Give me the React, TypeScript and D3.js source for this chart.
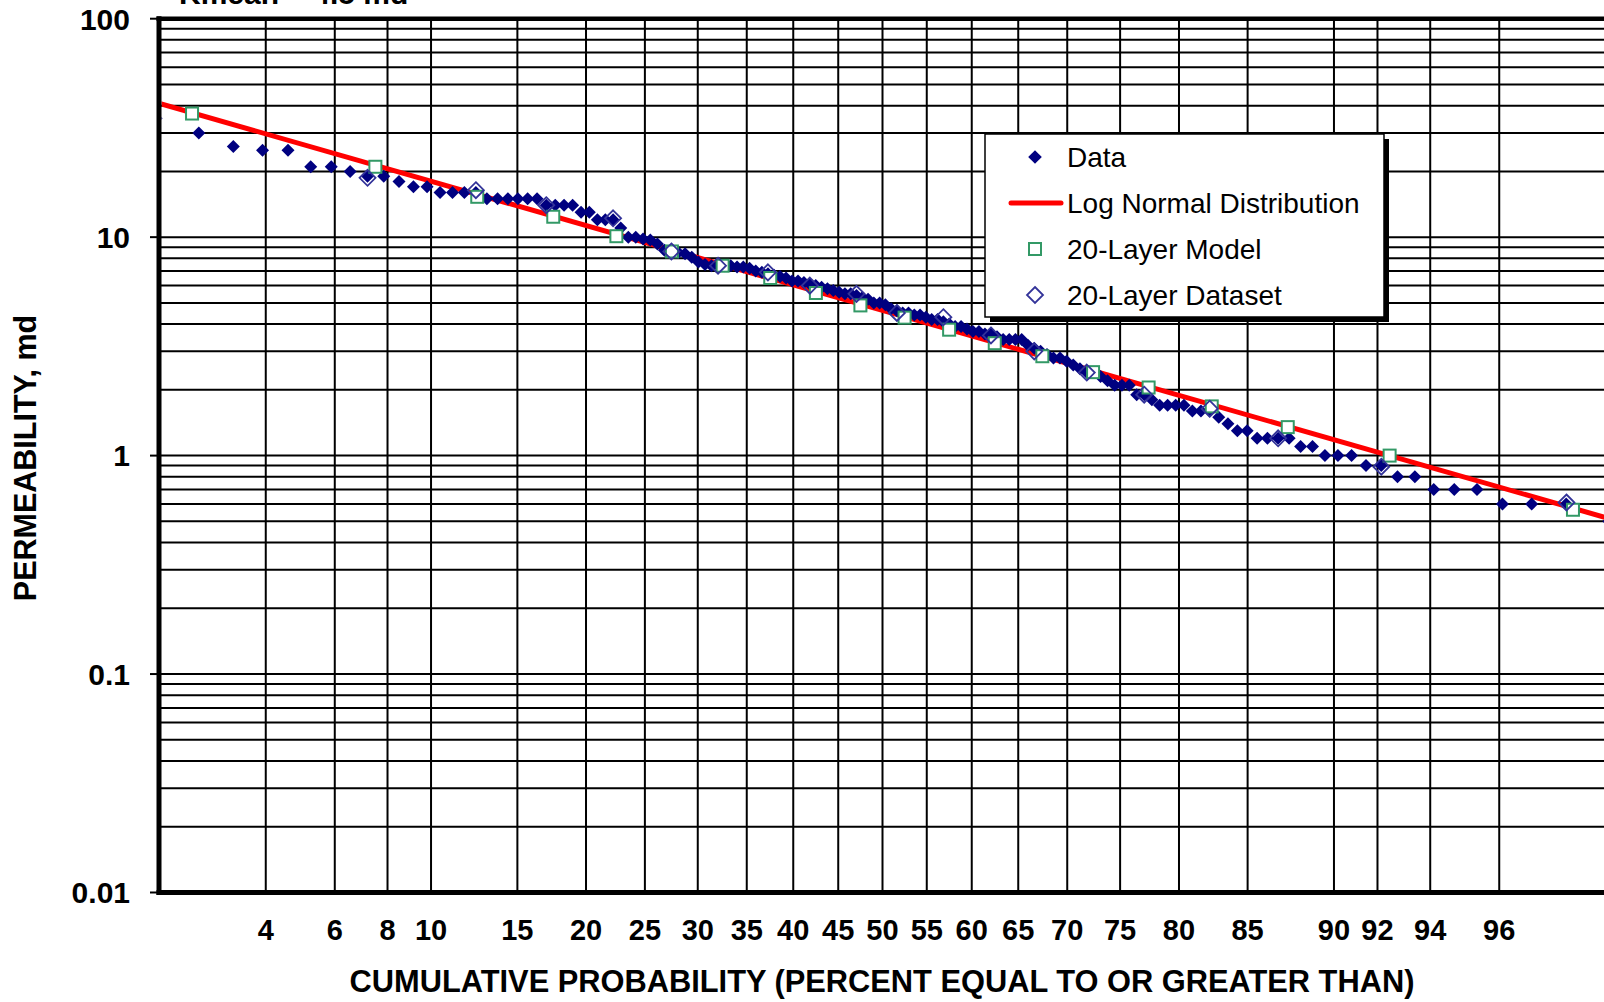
import React, { useEffect, useRef } from "react";
import * as d3 from "d3";

// permeability values (md), ranked from highest to lowest
const dataK = [
  48, 40, 35, 30, 26, 25, 25, 21, 21, 20,
  19, 19, 18, 17, 17, 16, 16, 16, 16, 15,
  15, 15, 15, 15, 15, 14, 14, 14, 14, 13,
  13, 12, 12, 12, 11, 10, 10, 9.8, 9.7, 9.3,
  8.7, 8.6, 8.5, 8.4, 8.1, 7.7, 7.5, 7.4, 7.4, 7.4,
  7.4, 7.3, 7.3, 7.2, 7.0, 6.9, 6.8, 6.7, 6.6, 6.5,
  6.3, 6.3, 6.2, 6.1, 6.0, 5.9, 5.8, 5.7, 5.6, 5.5,
  5.5, 5.4, 5.3, 5.2, 5.0, 5.0, 4.9, 4.7, 4.6, 4.5,
  4.5, 4.4, 4.4, 4.3, 4.2, 4.2, 4.1, 4.0, 3.9, 3.9,
  3.8, 3.7, 3.7, 3.6, 3.6, 3.5, 3.4, 3.4, 3.4, 3.4,
  3.2, 3.1, 3.0, 2.9, 2.8, 2.8, 2.7, 2.6, 2.5, 2.4,
  2.4, 2.3, 2.2, 2.1, 2.1, 2.1, 1.9, 1.9, 1.8, 1.7,
  1.7, 1.7, 1.7, 1.6, 1.6, 1.6, 1.5, 1.4, 1.3, 1.3,
  1.2, 1.2, 1.2, 1.2, 1.1, 1.1, 1.0, 1.0, 1.0, 0.9,
  0.9, 0.8, 0.8, 0.7, 0.7, 0.7, 0.6, 0.6, 0.6, 0.5,
  0.5, 0.4,
];

const modelP = [2.5, 7.5, 12.5, 17.5, 22.5, 27.5, 32.5, 37.5, 42.5, 47.5, 52.5, 57.5, 62.5, 67.5, 72.5, 77.5, 82.5, 87.5, 92.5, 97.5];
const modelK = [36.8, 21, 15.3, 12.4, 10.1, 8.6, 7.4, 6.5, 5.55, 4.87, 4.28, 3.77, 3.27, 2.85, 2.41, 2.05, 1.68, 1.35, 1.0, 0.565];

const datasetP = [7.19, 12.42, 16.99, 22.22, 27.45, 32.03, 37.25, 41.83, 47.06, 51.63, 56.86, 62.09, 66.67, 71.9, 77.12, 82.35, 86.93, 92.16, 97.39];
const datasetK = [18.7, 16.4, 14.0, 12.2, 8.6, 7.4, 6.9, 6.0, 5.5, 4.5, 4.3, 3.55, 3.0, 2.4, 1.9, 1.64, 1.2, 0.89, 0.61];

// log normal fit, end points
const lineP = [2, 98];
const lineK = [41, 0.52];

const xTicks = [4, 6, 8, 10, 15, 20, 25, 30, 35, 40, 45, 50, 55, 60, 65, 70, 75, 80, 85, 90, 92, 94, 96];
const yTicks = [0.01, 0.1, 1, 10, 100];
const yTickLabels = ["0.01", "0.1", "1", "10", "100"];
const legendItems = ["Data", "Log Normal Distribution", "20-Layer Model", "20-Layer Dataset"];

// inverse normal cdf (Acklam)
function probit(p: number) {
  const a = [-39.69683028665376, 220.9460984245205, -275.9285104469687, 138.357751867269, -30.66479806614716, 2.506628277459239];
  const b = [-54.47609879822406, 161.5858368580409, -155.6989798598866, 66.80131188771972, -13.28068155288572];
  const c = [-0.007784894002430293, -0.3223964580411365, -2.400758277161838, -2.549732539343734, 4.374664141464968, 2.938163982698783];
  const d = [0.007784695709041462, 0.3224671290700398, 2.445134137142996, 3.754408661907416];
  const plow = 0.02425;
  if (p < plow) {
    const q = Math.sqrt(-2 * Math.log(p));
    return (((((c[0] * q + c[1]) * q + c[2]) * q + c[3]) * q + c[4]) * q + c[5]) / ((((d[0] * q + d[1]) * q + d[2]) * q + d[3]) * q + 1);
  }
  if (p > 1 - plow) {
    const q = Math.sqrt(-2 * Math.log(1 - p));
    return -(((((c[0] * q + c[1]) * q + c[2]) * q + c[3]) * q + c[4]) * q + c[5]) / ((((d[0] * q + d[1]) * q + d[2]) * q + d[3]) * q + 1);
  }
  const q = p - 0.5;
  const r = q * q;
  return ((((((a[0] * r + a[1]) * r + a[2]) * r + a[3]) * r + a[4]) * r + a[5]) * q) / (((((b[0] * r + b[1]) * r + b[2]) * r + b[3]) * r + b[4]) * r + 1);
}

const FONT = "'Liberation Sans', Arial, sans-serif";

export default function App() {
  const ref = useRef<SVGSVGElement>(null);

  useEffect(() => {
    const width = 1604;
    const height = 1002;
    const left = 159;
    const right = 1606;
    const top = 18.7;
    const bottom = 892.5;

    const svg = d3.select(ref.current);
    svg.selectAll("*").remove();
    svg.attr("width", width).attr("height", height);

    const z = d3.scaleLinear().domain([probit(0.02), probit(0.98)]).range([left, right]);
    const x = (p: number) => z(probit(p / 100));
    const y = d3.scaleLog().domain([0.01, 100]).range([bottom, top]);

    svg.append("rect").attr("width", width).attr("height", height).attr("fill", "#fff");

    // clip a little inside the thick frame so nothing peeks past it
    svg.append("defs").append("clipPath").attr("id", "plotClip")
      .append("rect").attr("x", left + 2.5).attr("y", top).attr("width", right - left).attr("height", bottom - top);

    // grid
    const minor: number[] = [];
    [0.01, 0.1, 1, 10].forEach((dec) => {
      for (let m = 2; m <= 9; m++) minor.push(dec * m);
    });
    const grid = svg.append("g");
    grid.selectAll("line.h")
      .data(minor.concat(yTicks))
      .join("line")
      .attr("x1", left).attr("x2", right)
      .attr("y1", (d) => y(d)).attr("y2", (d) => y(d))
      .attr("stroke", "#000").attr("stroke-width", 2);
    grid.selectAll("line.v")
      .data(xTicks)
      .join("line")
      .attr("x1", (d) => x(d)).attr("x2", (d) => x(d))
      .attr("y1", top).attr("y2", bottom)
      .attr("stroke", "#000").attr("stroke-width", 2);

    const plot = svg.append("g").attr("clip-path", "url(#plotClip)");

    // log normal line
    const line = d3.line<number>().x((_, i) => x(lineP[i])).y((d) => y(d));
    plot.append("path")
      .attr("d", line(lineK))
      .attr("fill", "none")
      .attr("stroke", "#ff0000")
      .attr("stroke-width", 5);

    const diamond = (r: number) => `M0,${-r}L${r},0L0,${r}L${-r},0Z`;

    // data points at plotting position i/(n+1)
    const n = dataK.length;
    plot.append("g").selectAll("path")
      .data(dataK)
      .join("path")
      .attr("d", diamond(6.5))
      .attr("transform", (d, i) => `translate(${x((100 * (i + 1)) / (n + 1))},${y(d)})`)
      .attr("fill", "#000080");

    plot.append("g").selectAll("rect")
      .data(modelK)
      .join("rect")
      .attr("x", (_, i) => x(modelP[i]) - 6)
      .attr("y", (d) => y(d) - 6)
      .attr("width", 12).attr("height", 12)
      .attr("fill", "#fff")
      .attr("stroke", "#339966")
      .attr("stroke-width", 2);

    plot.append("g").selectAll("path")
      .data(datasetK)
      .join("path")
      .attr("d", diamond(8))
      .attr("transform", (d, i) => `translate(${x(datasetP[i])},${y(d)})`)
      .attr("fill", "none")
      .attr("stroke", "#333399")
      .attr("stroke-width", 1.8);

    // frame
    svg.append("line").attr("x1", left).attr("x2", left).attr("y1", top - 2.5).attr("y2", bottom + 2.5)
      .attr("stroke", "#000").attr("stroke-width", 5);
    svg.append("line").attr("x1", left - 2.5).attr("x2", width + 10).attr("y1", top).attr("y2", top)
      .attr("stroke", "#000").attr("stroke-width", 4.5);
    svg.append("line").attr("x1", left - 2.5).attr("x2", width + 10).attr("y1", bottom).attr("y2", bottom)
      .attr("stroke", "#000").attr("stroke-width", 5);

    // y axis ticks and labels
    svg.append("g").selectAll("line")
      .data(yTicks)
      .join("line")
      .attr("x1", left - 9).attr("x2", left)
      .attr("y1", (d) => y(d)).attr("y2", (d) => y(d))
      .attr("stroke", "#000").attr("stroke-width", 2);
    svg.append("g").selectAll("text")
      .data(yTicks)
      .join("text")
      .attr("x", 130)
      .attr("y", (d) => y(d))
      .attr("dy", "0.36em")
      .attr("text-anchor", "end")
      .style("font-family", FONT)
      .style("font-weight", "bold")
      .style("font-size", "30px")
      .text((_, i) => yTickLabels[i]);

    // x labels
    svg.append("g").selectAll("text")
      .data(xTicks)
      .join("text")
      .attr("x", (d) => x(d))
      .attr("y", 940)
      .attr("text-anchor", "middle")
      .style("font-family", FONT)
      .style("font-weight", "bold")
      .style("font-size", "29px")
      .text((d) => d);

    svg.append("text")
      .attr("x", 882)
      .attr("y", 992)
      .attr("text-anchor", "middle")
      .style("font-family", FONT)
      .style("font-weight", "bold")
      .style("font-size", "30.8px")
      .text("CUMULATIVE PROBABILITY (PERCENT EQUAL TO OR GREATER THAN)");

    svg.append("text")
      .attr("transform", "translate(36,458) rotate(-90)")
      .attr("text-anchor", "middle")
      .style("font-family", FONT)
      .style("font-weight", "bold")
      .style("font-size", "30.5px")
      .text("PERMEABILITY, md");

    // the reference crops this heading at the top edge
    svg.append("text")
      .attr("x", 179)
      .attr("y", 4)
      .style("font-family", FONT)
      .style("font-weight", "bold")
      .style("font-size", "30px")
      .text("Kmean = 4.5 md");

    // legend
    const lg = svg.append("g").attr("transform", "translate(985,134)");
    lg.append("rect").attr("x", 5).attr("y", 5).attr("width", 399).attr("height", 183).attr("fill", "#000");
    lg.append("rect").attr("width", 399).attr("height", 183).attr("fill", "#fff")
      .attr("stroke", "#000").attr("stroke-width", 1.5);
    const rowY = (i: number) => 23 + i * 46;
    lg.append("path").attr("d", diamond(6.8)).attr("transform", `translate(50,${rowY(0)})`).attr("fill", "#000080");
    lg.append("line").attr("x1", 26).attr("x2", 76).attr("y1", rowY(1)).attr("y2", rowY(1))
      .attr("stroke", "#ff0000").attr("stroke-width", 5).attr("stroke-linecap", "round");
    lg.append("rect").attr("x", 44).attr("y", rowY(2) - 6).attr("width", 12).attr("height", 12)
      .attr("fill", "#fff").attr("stroke", "#339966").attr("stroke-width", 2);
    lg.append("path").attr("d", diamond(8)).attr("transform", `translate(50,${rowY(3)})`)
      .attr("fill", "none").attr("stroke", "#333399").attr("stroke-width", 1.8);
    lg.selectAll("text.item")
      .data(legendItems)
      .join("text")
      .attr("x", 82)
      .attr("y", (_, i) => rowY(i) + 10)
      .style("font-family", FONT)
      .style("font-size", "28px")
      .text((d) => d);
  }, []);

  return <svg ref={ref} style={{ position: "absolute", left: 0, top: 0, display: "block" }}></svg>;
}
